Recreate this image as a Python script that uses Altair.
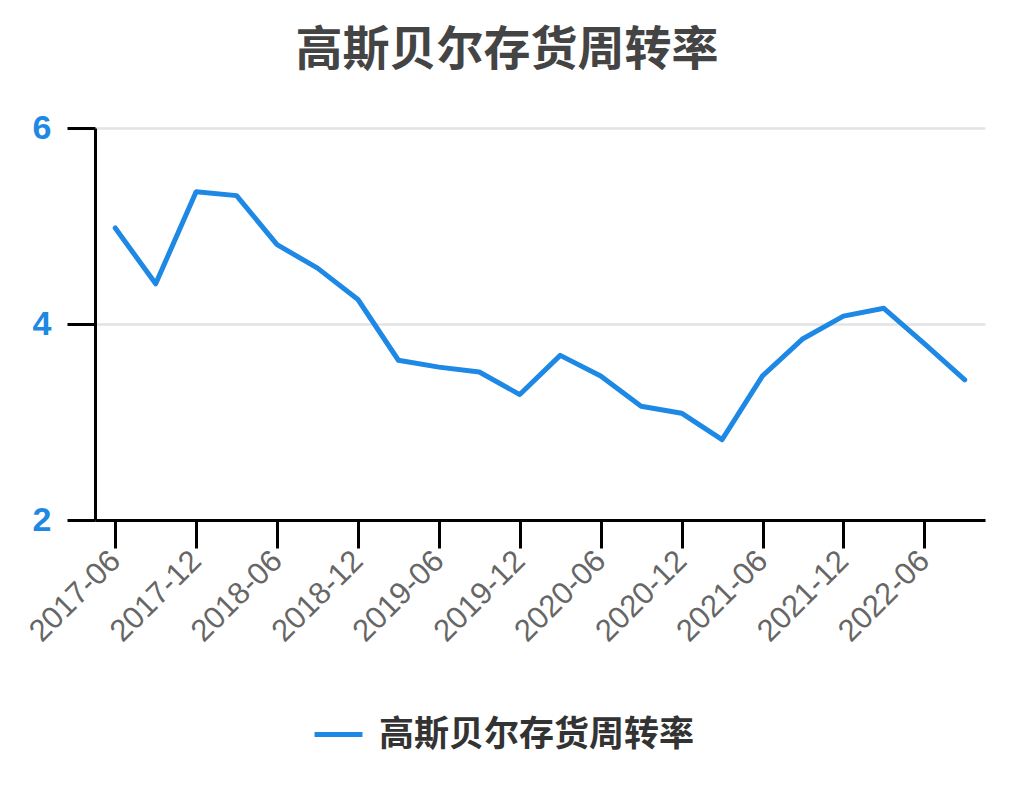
import pandas as pd
import altair as alt

periods = [
    "2017-06", "2017-09", "2017-12", "2018-03", "2018-06", "2018-09",
    "2018-12", "2019-03", "2019-06", "2019-09", "2019-12", "2020-03",
    "2020-06", "2020-09", "2020-12", "2021-03", "2021-06", "2021-09",
    "2021-12", "2022-03", "2022-06", "2022-09",
]
turnover = [
    4.98, 4.41, 5.35, 5.31, 4.81, 4.57,
    4.25, 3.63, 3.56, 3.51, 3.28, 3.68,
    3.47, 3.16, 3.09, 2.82, 3.47, 3.85,
    4.08, 4.16, 3.80, 3.43,
]
tick_labels = periods[::2]
y_ticks = [2, 4, 6]
series_name = "高斯贝尔存货周转率"

df = pd.DataFrame({"period": periods, "value": turnover, "series": series_name})

cjk = "Noto Sans CJK SC"
latin = "Liberation Sans"

chart = (
    alt.Chart(df)
    .mark_line(strokeWidth=5, strokeCap="round", strokeJoin="round")
    .encode(
        x=alt.X(
            "period:O",
            sort=periods,
            scale=alt.Scale(type="point", padding=0.5),
            axis=alt.Axis(
                title=None,
                values=tick_labels,
                labelAngle=-45,
                labelAlign="right",
                labelBaseline="middle",
                labelFont=latin,
                labelFontSize=31,
                labelColor="#666666",
                labelPadding=8,
                tickSize=28,
                tickWidth=3,
                tickColor="#000000",
                domainColor="#000000",
                domainWidth=3,
                grid=False,
            ),
        ),
        y=alt.Y(
            "value:Q",
            scale=alt.Scale(domain=[2, 6], nice=False, zero=False),
            axis=alt.Axis(
                title=None,
                values=y_ticks,
                labelFont=latin,
                labelFontSize=34,
                labelFontWeight="bold",
                labelColor="#1e88e5",
                labelPadding=16,
                tickSize=28,
                tickWidth=3,
                tickColor="#000000",
                domainColor="#000000",
                domainWidth=3,
                grid=True,
                gridColor="#e3e3e3",
                gridWidth=2.5,
            ),
        ),
        color=alt.Color(
            "series:N",
            scale=alt.Scale(range=["#1e88e5"]),
            legend=alt.Legend(
                title=None,
                orient="none",
                legendX=217,
                legendY=580,
                symbolType="stroke",
                symbolSize=2300,
                symbolStrokeWidth=5,
                labelFont=cjk,
                labelFontSize=35,
                labelFontWeight="bold",
                labelColor="#333333",
                labelOffset=14,
                labelLimit=500,
            ),
        ),
    )
    .properties(
        width=890,
        height=392,
        autosize=alt.AutoSizeParams(type="none"),
        padding={"left": 87, "top": 120, "right": 21, "bottom": 282},
        title=alt.TitleParams(
            series_name,
            font=cjk,
            fontSize=47,
            fontWeight="bold",
            color="#444444",
            anchor="middle",
            dx=-33,
            offset=36,
        ),
    )
    .configure_view(stroke=None)
)

chart.save("out.html", embed_options={"renderer": "svg", "actions": False})
